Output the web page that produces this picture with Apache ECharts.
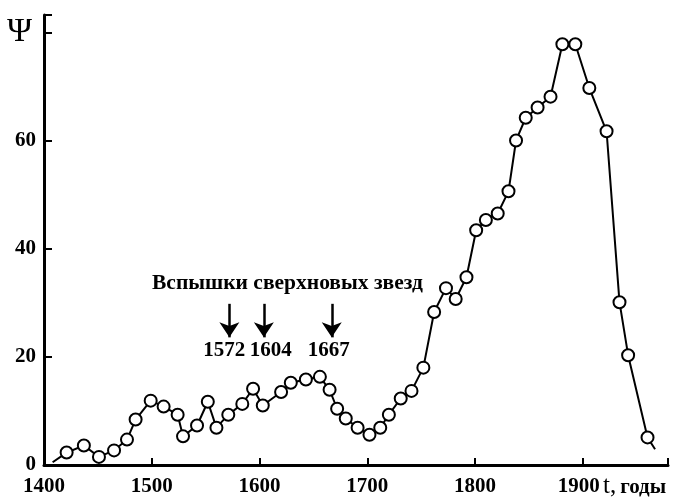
<!DOCTYPE html>
<html>
<head>
<meta charset="utf-8">
<title>Psi</title>
<script src="https://cdn.jsdelivr.net/npm/echarts@6/dist/echarts.min.js"></script>
<style>
  html, body { margin: 0; padding: 0; background: #fff; }
</style>
</head>
<body>
<div id="main" style="width: 673px;height:497px;"></div>
<script type="text/javascript">
// годы и значения Psi
var years = [1408,1421,1437,1451,1465,1477,1485,1499,1511,1524,1529,1542,1552,1560,1571,1584,1594,1603,1620,1629,1643,1656,1665,1672,1680,1691,1702,1712,1720,1731,1741,1752,1762,1773,1782,1792,1801,1810,1821,1831,1838,1847,1858,1870,1881,1893,1906,1922,1934,1942,1960,1967];
var psi = [0.5,2.3,3.6,1.5,2.7,4.7,8.4,11.9,10.8,9.3,5.3,7.3,11.7,6.9,9.3,11.3,14.1,11.0,13.5,15.2,15.8,16.3,13.9,10.4,8.6,6.9,5.6,6.9,9.3,12.3,13.7,18.0,28.3,32.7,30.7,34.7,43.4,45.3,46.5,50.6,60.0,64.2,66.1,68.1,77.8,77.8,69.7,61.7,30.1,20.3,5.1,2.9];
var supernovae = [1572, 1604, 1667];
var snLabelShift = [-5, 7, -3];

var serif = '"Liberation Serif", "DejaVu Serif", serif';

var pts = [];
for (var i = 0; i < years.length; i++) {
    var p = { value: [years[i], psi[i]] };
    if (i == 0 || i == years.length - 1) p.symbol = 'none';
    pts.push(p);
}

var arrows = [];
var snLabels = [];
for (var j = 0; j < supernovae.length; j++) {
    arrows.push([{ coord: [supernovae[j], 29.8] }, { coord: [supernovae[j], 23.6] }]);
    snLabels.push({
        coord: [supernovae[j], 21.1],
        label: { formatter: String(supernovae[j]), offset: [snLabelShift[j], 0] }
    });
}

var myChart = echarts.init(document.getElementById('main'));
var option = {
    backgroundColor: '#fff',
    animation: false,
    grid: { left: 44, right: 5, top: 15, bottom: 30.5 },
    xAxis: {
        type: 'value',
        min: 1400,
        max: 1979,
        interval: 100,
        axisLine: { lineStyle: { color: '#000', width: 3 } },
        axisTick: { inside: true, length: 7, lineStyle: { color: '#000', width: 2 } },
        axisLabel: {
            color: '#000', fontFamily: serif, fontWeight: 'bold', fontSize: 21, margin: 11,
            formatter: function (v) {
                if (v == 1900) return '{s|1900}';
                return (v % 100 == 0 && v < 1900) ? String(v) : '';
            },
            rich: { s: { fontFamily: serif, fontWeight: 'bold', fontSize: 21, padding: [0, 8, 0, 0] } }
        },
        splitLine: { show: false }
    },
    yAxis: {
        type: 'value',
        min: 0,
        max: 83.2,
        interval: 20,
        axisLine: { show: true, lineStyle: { color: '#000', width: 3 } },
        axisTick: { show: true, inside: true, length: 8, lineStyle: { color: '#000', width: 2 } },
        axisLabel: {
            color: '#000', fontFamily: serif, fontWeight: 'bold', fontSize: 21, margin: 8,
            formatter: function (v) { return (v % 20 == 0 && v < 80) ? String(v) : ''; }
        },
        splitLine: { show: false }
    },
    graphic: [
        {
            type: 'text', left: 7, top: 15,
            style: { text: 'Ψ', font: '34px ' + serif, fill: '#000' }
        },
        {
            type: 'text', left: 152, top: 272,
            style: { text: 'Вспышки сверхновых звезд', font: 'bold 21.5px ' + serif, fill: '#000' }
        },
        {
            type: 'text', left: 603, top: 474,
            style: {
                text: '{t|t,}{g|годы}',
                rich: {
                    t: { font: '25px ' + serif, fill: '#000' },
                    g: { font: 'bold 21px ' + serif, fill: '#000', padding: [3, 0, 0, 4] }
                }
            }
        }
    ],
    series: [
        {
            type: 'line',
            data: pts,
            symbol: 'circle',
            symbolSize: 12,
            showAllSymbol: true,
            lineStyle: { color: '#000', width: 2 },
            itemStyle: { color: '#fff', borderColor: '#000', borderWidth: 2 },
            markLine: {
                silent: true,
                symbol: ['none', 'arrow'],
                symbolSize: 15,
                label: { show: false },
                lineStyle: { color: '#000', width: 2.5, type: 'solid' },
                data: arrows
            },
            markPoint: {
                silent: true,
                symbol: 'circle',
                symbolSize: 0,
                label: {
                    show: true, position: 'inside', color: '#000',
                    fontFamily: serif, fontWeight: 'bold', fontSize: 21
                },
                data: snLabels
            }
        }
    ]
};
myChart.setOption(option);
window.onresize = function(){
    myChart.resize();
}
</script>
</body>
</html>
